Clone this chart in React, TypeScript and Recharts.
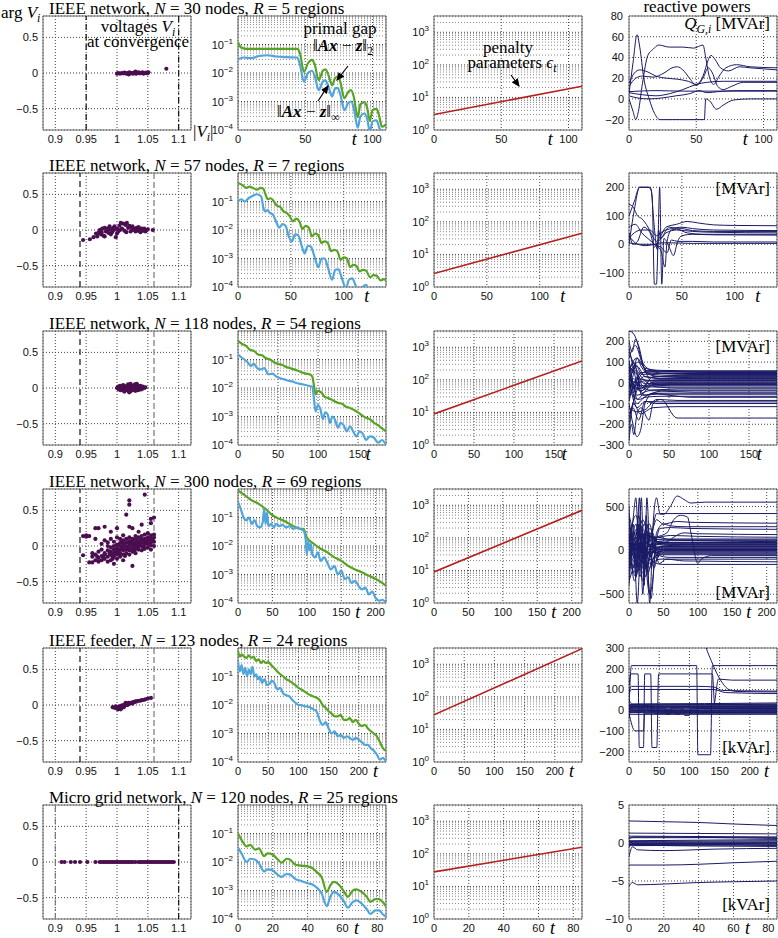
import React from 'react';
import { ComposedChart, Line, Scatter, XAxis, YAxis, CartesianGrid, ReferenceLine, ReferenceArea } from 'recharts';

type Pt = [number, number];

// voltages at convergence: [|V_i|, arg V_i]
const v1: Pt[] = [[1.0,-0.01],[1.002,0.0],[1.005,-0.01],[1.008,0.0],[1.01,-0.005],[1.012,0.005],[1.013,0.0],[1.015,-0.01],[1.017,0.0],[1.019,-0.02],[1.02,0.01],[1.022,-0.005],[1.024,0.0],[1.026,-0.01],[1.027,0.0],[1.028,0.005],[1.03,0.02],[1.031,-0.01],[1.033,0.0],[1.035,0.01],[1.037,-0.005],[1.039,0.0],[1.041,0.01],[1.043,-0.01],[1.045,0.0],[1.047,0.005],[1.049,-0.005],[1.05,0.0],[1.051,0.01],[1.08,0.06]];
const v2: Pt[] = [[0.945,-0.14],[0.956,-0.13],[0.962,-0.1],[0.966,-0.05],[0.968,-0.09],[0.97,-0.04],[0.972,0.0],[0.974,-0.06],[0.975,-0.03],[0.976,0.02],[0.978,-0.08],[0.98,0.03],[0.98,-0.09],[0.982,-0.02],[0.984,0.02],[0.985,0.0],[0.986,-0.04],[0.988,0.05],[0.99,0.01],[0.99,-0.06],[0.992,-0.03],[0.994,0.03],[0.995,0.0],[0.996,0.05],[0.998,-0.1],[1.0,0.02],[1.0,-0.05],[1.002,-0.02],[1.004,0.06],[1.005,0.0],[1.006,0.1],[1.008,0.02],[1.01,0.09],[1.012,-0.01],[1.014,0.07],[1.015,-0.03],[1.016,0.1],[1.018,0.03],[1.02,0.06],[1.022,-0.02],[1.024,0.03],[1.025,0.05],[1.026,0.0],[1.028,0.02],[1.03,-0.02],[1.032,0.03],[1.034,-0.01],[1.035,0.04],[1.036,0.02],[1.038,-0.03],[1.04,0.02],[1.042,-0.01],[1.044,0.02],[1.046,-0.02],[1.048,0.0],[1.05,0.01],[1.058,0.0]];
const v3: Pt[] = [[1.0,0.0],[1.002,0.02],[1.003,-0.02],[1.004,0.0],[1.005,0.03],[1.006,-0.03],[1.007,0.02],[1.008,0.01],[1.009,-0.01],[1.01,0.04],[1.011,-0.04],[1.012,0.02],[1.012,-0.05],[1.013,-0.02],[1.014,0.01],[1.015,0.0],[1.016,0.03],[1.017,-0.03],[1.017,0.0],[1.018,0.05],[1.019,-0.05],[1.02,0.01],[1.02,-0.06],[1.021,-0.01],[1.022,0.04],[1.022,0.06],[1.023,-0.04],[1.024,0.02],[1.024,0.0],[1.025,-0.02],[1.026,0.0],[1.027,0.03],[1.027,-0.01],[1.028,-0.03],[1.029,0.05],[1.03,-0.04],[1.031,0.01],[1.032,-0.01],[1.032,0.06],[1.033,0.04],[1.034,-0.03],[1.034,0.0],[1.035,0.02],[1.036,-0.02],[1.037,0.0],[1.037,0.01],[1.038,0.03],[1.039,-0.02],[1.04,0.01],[1.041,-0.01],[1.042,0.02],[1.044,0.0],[1.046,0.01]];
const v4: Pt[] = [[0.945,0.14],[0.945,-0.13],[0.95,0.15],[0.95,0.13],[0.955,-0.23],[0.955,0.14],[0.96,-0.23],[0.96,-0.15],[0.96,-0.1],[0.965,-0.2],[0.965,-0.12],[0.965,0.1],[0.965,0.25],[0.968,-0.15],[0.97,-0.22],[0.97,-0.17],[0.97,-0.08],[0.97,0.25],[0.975,-0.2],[0.975,-0.14],[0.975,-0.05],[0.975,0.03],[0.978,-0.16],[0.98,-0.18],[0.98,-0.1],[0.98,-0.12],[0.98,0.08],[0.98,0.27],[0.985,-0.22],[0.985,-0.15],[0.985,-0.06],[0.985,0.0],[0.985,0.05],[0.988,-0.1],[0.99,-0.2],[0.99,-0.12],[0.99,-0.08],[0.99,-0.02],[0.99,0.1],[0.99,0.2],[0.992,-0.14],[0.993,-0.18],[0.995,-0.25],[0.995,-0.15],[0.995,-0.1],[0.995,-0.05],[0.995,0.0],[0.995,0.06],[0.998,-0.09],[1.0,-0.18],[1.0,-0.12],[1.0,-0.07],[1.0,-0.03],[1.0,0.02],[1.0,0.12],[1.0,0.25],[1.003,-0.08],[1.005,-0.15],[1.005,-0.1],[1.005,-0.05],[1.005,0.0],[1.005,0.04],[1.005,0.1],[1.008,-0.03],[1.008,0.06],[1.01,-0.2],[1.01,-0.12],[1.01,-0.06],[1.01,-0.02],[1.01,0.03],[1.01,0.08],[1.01,0.15],[1.012,0.0],[1.013,-0.14],[1.015,-0.1],[1.015,-0.05],[1.015,0.0],[1.015,0.05],[1.015,0.1],[1.015,0.44],[1.018,-0.04],[1.02,-0.12],[1.02,-0.06],[1.02,-0.01],[1.02,0.03],[1.02,0.07],[1.02,0.12],[1.02,0.27],[1.02,0.58],[1.02,0.64],[1.022,0.05],[1.025,-0.28],[1.025,-0.08],[1.025,-0.03],[1.025,0.02],[1.025,0.06],[1.025,0.1],[1.025,0.25],[1.028,0.02],[1.028,-0.06],[1.03,-0.1],[1.03,-0.04],[1.03,0.0],[1.03,0.04],[1.03,0.09],[1.03,0.14],[1.033,0.06],[1.035,-0.05],[1.035,-0.01],[1.035,0.03],[1.035,0.07],[1.035,0.12],[1.035,0.2],[1.038,0.03],[1.04,-0.06],[1.04,0.0],[1.04,0.05],[1.04,0.09],[1.04,0.14],[1.04,0.3],[1.042,0.08],[1.043,-0.02],[1.045,0.72],[1.045,-0.04],[1.045,0.02],[1.045,0.06],[1.045,0.1],[1.045,0.16],[1.048,0.05],[1.05,-0.02],[1.05,0.03],[1.05,0.08],[1.05,0.12],[1.05,0.18],[1.052,0.1],[1.055,-0.05],[1.055,0.01],[1.055,0.05],[1.055,0.1],[1.055,0.15],[1.055,0.32],[1.055,0.38],[1.058,0.08],[1.06,0.0],[1.06,0.06],[1.06,0.12],[1.06,0.16],[1.06,0.4]];
const v5: Pt[] = [[0.993,-0.03],[0.996,-0.04],[0.998,-0.02],[1.0,-0.05],[1.001,-0.03],[1.002,-0.06],[1.003,-0.04],[1.004,-0.02],[1.005,-0.05],[1.006,-0.03],[1.006,-0.06],[1.007,-0.01],[1.008,-0.04],[1.009,-0.02],[1.01,0.0],[1.011,-0.03],[1.012,-0.01],[1.013,0.01],[1.014,0.03],[1.015,0.0],[1.016,0.02],[1.017,0.0],[1.018,0.01],[1.019,0.03],[1.02,0.02],[1.022,0.03],[1.024,0.03],[1.025,0.02],[1.026,0.04],[1.028,0.04],[1.03,0.05],[1.032,0.05],[1.035,0.06],[1.038,0.06],[1.04,0.07],[1.043,0.07],[1.046,0.08],[1.05,0.09],[1.055,0.1]];
const v6: Pt[] = [[0.91,0.0],[0.915,0.0],[0.925,0.0],[0.932,0.0],[0.94,0.0],[0.952,0.0],[0.965,0.0],[0.972,0.0],[0.975,0.0],[0.978,0.0],[0.981,0.0],[0.984,0.0],[0.987,0.0],[0.99,0.0],[0.993,0.0],[0.996,0.0],[0.999,0.0],[1.002,0.0],[1.005,0.0],[1.008,0.0],[1.011,0.0],[1.014,0.0],[1.017,0.0],[1.02,0.0],[1.023,0.0],[1.026,0.0],[1.03,0.0],[1.035,0.0],[1.038,0.0],[1.041,0.0],[1.044,0.0],[1.047,0.0],[1.05,0.0],[1.053,0.0],[1.056,0.0],[1.059,0.0],[1.062,0.0],[1.065,0.0],[1.068,0.0],[1.071,0.0],[1.074,0.0],[1.077,0.0],[1.08,0.0],[1.083,0.0],[1.086,0.0],[1.089,0.0],[1.092,0.0]];

// primal gap ||Ax - z||_2 (green) and ||Ax - z||_inf (blue): [t, value]
const g1: Pt[] = [[0,0.12],[2,0.08],[6,0.07],[44,0.07],[46,0.05],[49,0.011],[52,0.022],[55,0.029],[57,0.02],[60,0.0056],[63,0.012],[65,0.0135],[67,0.009],[70,0.0037],[72,0.0065],[74,0.0074],[76,0.005],[79,0.0013],[82,0.0022],[84,0.0025],[86,0.0015],[89,0.00028],[91,0.0008],[94,0.00095],[96,0.0006],[98,0.00021],[100,0.0005],[103,0.00055],[105,0.0003],[107,0.00013],[110,0.00016]];
const b1: Pt[] = [[0,0.03],[4,0.035],[10,0.033],[16,0.04],[22,0.042],[28,0.038],[36,0.036],[44,0.035],[46,0.02],[49,0.005],[52,0.01],[55,0.012],[57,0.008],[60,0.0025],[63,0.005],[65,0.0055],[67,0.0035],[70,0.0015],[72,0.0028],[74,0.003],[76,0.0018],[79,0.0005],[82,0.0009],[84,0.001],[86,0.0006],[89,0.00012],[91,0.0003],[94,0.00038],[96,0.00025],[98,0.00009],[100,0.0002],[103,0.00022],[105,0.00012],[108,0.00008],[110,0.0001]];
const g2: Pt[] = [[0,0.45],[4,0.38],[8,0.3],[11,0.33],[14,0.3],[18,0.26],[21,0.3],[24,0.28],[26,0.18],[28,0.12],[31,0.13],[34,0.1],[37,0.07],[40,0.065],[43,0.045],[46,0.04],[49,0.03],[52,0.02],[55,0.025],[58,0.02],[61,0.011],[64,0.014],[67,0.012],[70,0.006],[73,0.0075],[76,0.0065],[79,0.0035],[82,0.004],[85,0.0035],[88,0.0018],[91,0.002],[94,0.0018],[97,0.0009],[100,0.0011],[103,0.001],[106,0.0005],[109,0.0006],[112,0.00055],[115,0.00035],[118,0.0004],[121,0.00038],[125,0.00022],[128,0.00026],[131,0.00025],[135,0.00017],[138,0.00019],[140,0.00017]];
const b2: Pt[] = [[0,0.1],[3,0.12],[6,0.1],[10,0.13],[14,0.16],[18,0.18],[22,0.15],[24,0.06],[26,0.045],[28,0.05],[30,0.04],[33,0.035],[36,0.02],[39,0.012],[42,0.016],[45,0.014],[48,0.006],[51,0.004],[54,0.007],[57,0.0065],[60,0.003],[63,0.0015],[66,0.0028],[69,0.0026],[72,0.0013],[76,0.0005],[79,0.001],[82,0.001],[85,0.0005],[89,0.00018],[92,0.0004],[95,0.00042],[98,0.00022],[102,0.00009],[105,0.00018],[108,0.0002],[111,0.00012],[115,0.00006],[118,0.0001],[121,0.00012],[124,0.00008],[128,0.00004],[131,0.00008],[134,0.0001],[137,0.00007],[140,0.00005]];
const g3: Pt[] = [[0,0.45],[5,0.35],[10,0.3],[15,0.22],[20,0.2],[25,0.15],[30,0.14],[35,0.11],[40,0.1],[45,0.08],[50,0.07],[55,0.065],[60,0.055],[65,0.05],[70,0.045],[75,0.04],[80,0.035],[85,0.032],[90,0.03],[93,0.025],[95,0.012],[97,0.006],[100,0.008],[104,0.007],[108,0.005],[112,0.0045],[116,0.004],[120,0.0035],[125,0.003],[130,0.0028],[135,0.0022],[140,0.002],[145,0.0017],[150,0.0014],[155,0.0011],[160,0.0009],[165,0.0008],[170,0.0006],[175,0.0005],[180,0.00038],[185,0.0003]];
const b3: Pt[] = [[0,0.15],[4,0.12],[8,0.1],[12,0.08],[16,0.06],[20,0.07],[24,0.05],[28,0.045],[33,0.05],[38,0.03],[43,0.032],[48,0.025],[53,0.022],[58,0.02],[63,0.018],[68,0.017],[73,0.015],[78,0.014],[83,0.013],[88,0.012],[93,0.011],[95,0.004],[97,0.0015],[100,0.0025],[103,0.0018],[106,0.0008],[109,0.0014],[112,0.0012],[115,0.0006],[118,0.001],[121,0.0008],[125,0.0004],[128,0.0006],[132,0.0005],[136,0.0003],[140,0.00045],[144,0.0003],[148,0.0002],[152,0.0003],[156,0.00025],[160,0.00015],[165,0.0002],[170,0.00018],[175,0.00012],[180,0.00015],[185,0.0001]];
const g4: Pt[] = [[0,0.9],[10,0.6],[20,0.4],[30,0.3],[40,0.2],[50,0.12],[60,0.09],[70,0.07],[80,0.05],[90,0.04],[95,0.04],[100,0.02],[110,0.012],[120,0.008],[130,0.006],[140,0.004],[150,0.003],[160,0.002],[170,0.0015],[180,0.0012],[190,0.0009],[200,0.0007],[210,0.0005],[215,0.0004]];
const b4: Pt[] = [[0,0.35],[4,0.2],[8,0.1],[12,0.08],[16,0.1],[20,0.06],[24,0.08],[28,0.05],[32,0.045],[36,0.07],[38,0.2],[40,0.06],[42,0.15],[44,0.05],[48,0.06],[52,0.045],[56,0.06],[60,0.05],[65,0.055],[70,0.045],[75,0.05],[80,0.04],[85,0.045],[90,0.04],[95,0.035],[98,0.02],[100,0.005],[102,0.015],[104,0.007],[106,0.012],[108,0.005],[112,0.004],[116,0.006],[120,0.003],[125,0.004],[130,0.0025],[135,0.0015],[140,0.002],[145,0.001],[150,0.0014],[155,0.0007],[160,0.0008],[165,0.0005],[170,0.0006],[175,0.0004],[180,0.0003],[185,0.00035],[190,0.0002],[195,0.00025],[200,0.00015],[205,0.00012],[210,0.00013],[215,0.0001]];
const g5: Pt[] = [[0,0.8],[3,0.5],[6,0.6],[10,0.5],[14,0.45],[18,0.55],[22,0.45],[26,0.5],[30,0.35],[34,0.4],[38,0.3],[42,0.35],[46,0.3],[50,0.32],[55,0.25],[60,0.2],[65,0.15],[70,0.12],[75,0.1],[80,0.08],[85,0.07],[90,0.06],[95,0.05],[100,0.04],[105,0.035],[110,0.03],[115,0.025],[120,0.022],[125,0.02],[130,0.018],[135,0.015],[140,0.01],[145,0.008],[150,0.006],[155,0.005],[160,0.004],[165,0.004],[170,0.0045],[175,0.003],[180,0.003],[185,0.0035],[190,0.0025],[195,0.003],[200,0.0022],[205,0.0018],[210,0.002],[215,0.0015],[220,0.0012],[225,0.001],[230,0.0008],[235,0.0005],[240,0.0003],[245,0.00025]];
const b5: Pt[] = [[0,0.35],[3,0.15],[6,0.25],[9,0.12],[12,0.2],[15,0.1],[18,0.18],[21,0.12],[24,0.22],[27,0.1],[30,0.12],[33,0.08],[36,0.1],[40,0.06],[44,0.08],[48,0.05],[52,0.055],[56,0.07],[60,0.06],[65,0.035],[70,0.04],[75,0.025],[80,0.022],[85,0.02],[90,0.015],[95,0.012],[100,0.01],[105,0.01],[110,0.009],[115,0.009],[120,0.008],[125,0.007],[130,0.006],[135,0.003],[140,0.002],[145,0.0025],[150,0.0015],[155,0.001],[160,0.0012],[165,0.0008],[170,0.0009],[175,0.0007],[180,0.0008],[185,0.0007],[190,0.0006],[195,0.0007],[200,0.0006],[205,0.0005],[210,0.0004],[215,0.0004],[220,0.0003],[225,0.00025],[230,0.00018],[235,0.00012],[240,0.00014],[245,0.0001]];
const g6: Pt[] = [[0,0.1],[2,0.06],[5,0.035],[7,0.04],[10,0.027],[12,0.03],[15,0.016],[17,0.02],[20,0.018],[23,0.012],[25,0.0095],[28,0.013],[30,0.012],[33,0.008],[36,0.0075],[40,0.007],[43,0.006],[45,0.0045],[48,0.003],[51,0.0009],[53,0.0015],[55,0.002],[58,0.0016],[61,0.0009],[63,0.0006],[66,0.001],[68,0.0011],[71,0.0009],[74,0.0006],[76,0.0004],[79,0.0005],[81,0.0005],[83,0.0004],[85,0.00028]];
const b6: Pt[] = [[0,0.032],[2,0.02],[5,0.01],[7,0.013],[10,0.012],[12,0.009],[15,0.0047],[17,0.0055],[20,0.005],[23,0.0035],[25,0.003],[28,0.0038],[30,0.0036],[33,0.0025],[36,0.0022],[40,0.0018],[43,0.0016],[45,0.0013],[48,0.0008],[51,0.00028],[53,0.0006],[55,0.0009],[58,0.0007],[61,0.0004],[63,0.00025],[66,0.0004],[68,0.00045],[71,0.00035],[74,0.00022],[76,0.00015],[79,0.0002],[81,0.0002],[83,0.00015],[85,0.00012]];

// penalty parameters rho_t
const rho1: Pt[] = [[0,3],[110,22]];
const rho2: Pt[] = [[0,2.6],[140,45]];
const rho3: Pt[] = [[0,9],[185,380]];
const rho4: Pt[] = [[0,9],[215,700]];
const rho5: Pt[] = [[0,28],[245,3000]];
const rho6: Pt[] = [[0,28],[85,160]];

// reactive powers Q_G,i, one list per generator
const q1: Pt[][] = [
  [[0,5],[3,35],[6,62],[8,50],[11,20],[15,0],[19,-14],[23,-20],[56,-20],[57,0],[60,-2],[65,-10],[70,-6],[78,-1],[90,0],[110,0]],
  [[0,0],[3,-12],[5,-20],[7,-12],[10,15],[14,42],[18,48],[22,52],[30,50],[40,50],[48,49],[55,52],[57,40],[60,20],[63,14],[67,22],[72,30],[80,33],[90,31],[110,30]],
  [[0,15],[4,25],[8,28],[14,26],[20,22],[28,20],[36,19],[44,17],[50,14],[55,22],[59,38],[61,42],[64,38],[68,30],[74,27],[82,31],[90,30],[110,28]],
  [[0,12],[5,20],[10,22],[18,21],[26,25],[32,30],[36,31],[40,28],[45,20],[50,13],[55,20],[59,30],[62,25],[66,12],[70,9],[76,12],[85,16],[110,16]],
  [[0,7],[20,8],[40,7.5],[60,7.5],[110,7.5]],
  [[0,6],[10,4],[20,3],[30,5],[40,9],[50,14],[58,16],[70,17],[90,17],[110,17]],
  [[0,3],[6,1],[15,0],[25,1],[35,3],[45,5],[52,8],[58,6],[66,7],[80,8],[110,8]],
];
const q2: Pt[][] = [
  [[0,140],[4,130],[8,100],[12,90],[18,60],[22,30],[26,10],[30,30],[35,60],[45,70],[55,80],[65,75],[80,68],[100,66],[140,65]],
  [[0,100],[5,150],[10,200],[20,200],[22,160],[24,-140],[26,-140],[28,50],[30,20],[35,40],[45,50],[60,45],[80,42],[140,40]],
  [[0,0],[5,120],[10,200],[18,200],[21,190],[23,100],[27,-20],[29,200],[31,-140],[33,20],[38,-10],[42,-40],[46,10],[50,30],[60,35],[80,33],[140,32]],
  [[0,40],[4,0],[8,10],[14,60],[20,40],[24,-10],[28,10],[32,30],[38,60],[45,55],[55,40],[70,35],[90,35],[140,35]],
  [[0,60],[6,70],[12,40],[18,20],[24,0],[30,-20],[34,-80],[36,10],[40,50],[50,55],[60,48],[80,45],[140,45]],
  [[0,5],[10,0],[20,0],[30,-10],[36,-30],[40,15],[46,10],[60,10],[80,8],[140,8]],
  [[0,30],[8,0],[16,-5],[24,0],[30,5],[40,5],[60,3],[140,3]],
  [[0,20],[5,40],[12,50],[20,50],[26,30],[32,45],[40,55],[50,60],[60,55],[80,50],[140,48]],
];
const q3: Pt[][] = [
  [[0,250],[5,240],[10,200],[15,120],[20,80],[30,60],[50,55],[100,50],[185,50]],
  [[0,200],[4,150],[8,210],[12,180],[20,60],[30,40],[60,35],[185,35]],
  [[0,-280],[3,-200],[6,-250],[10,-150],[15,-120],[25,-180],[30,-100],[40,-80],[60,-170],[80,-170],[185,-170]],
  [[0,-100],[5,-200],[10,-260],[15,-220],[20,-100],[30,-50],[50,-60],[80,-70],[185,-70]],
  [[0,100],[5,50],[10,120],[15,80],[25,40],[40,30],[80,25],[185,25]],
  [[0,0],[5,-50],[10,30],[15,-30],[25,10],[40,15],[80,15],[185,15]],
  [[0,50],[6,100],[12,20],[20,-20],[30,5],[50,5],[185,5]],
  [[0,-50],[5,0],[10,-80],[20,-40],[30,-10],[50,-5],[185,-5]],
  [[0,150],[5,100],[10,60],[20,10],[35,-20],[60,-25],[185,-25]],
  [[0,-150],[5,-100],[10,-20],[20,-60],[40,-40],[80,-45],[185,-45]],
  [[0,30],[8,-20],[15,40],[25,60],[40,45],[80,40],[185,40]],
  [[0,-30],[6,20],[12,-10],[25,-15],[50,-12],[185,-12]],
  [[0,80],[10,40],[20,-5],[40,-2],[185,-2]],
  [[0,10],[10,80],[20,30],[40,20],[185,20]],
  [[0,-200],[5,-120],[12,-180],[20,-90],[35,-100],[60,-100],[185,-100]],
  [[0,20],[10,0],[20,10],[50,10],[185,10]],
  [[0,-10],[10,-30],[20,-20],[50,-20],[185,-20]],
  [[0,60],[10,120],[20,70],[40,60],[100,58],[185,58]],
  [[0,-60],[10,-10],[25,-35],[60,-30],[185,-30]],
  [[0,120],[8,180],[16,100],[30,0],[60,0],[185,0]],
  [[0,-120],[10,-140],[20,-130],[35,-80],[60,-85],[185,-85]],
  [[0,40],[15,-40],[30,30],[60,30],[185,30]],
  [[0,90],[6,-30],[14,50],[30,48],[185,48]],
  [[0,-80],[8,60],[16,-60],[35,-55],[185,-55]],
  [[0,170],[6,60],[14,-40],[30,-8],[185,-8]],
  [[0,-170],[8,-60],[18,30],[40,22],[185,22]],
  [[0,70],[10,-100],[20,-70],[40,-65],[185,-65]],
  [[0,-20],[8,90],[16,40],[35,45],[185,45]],
  [[0,110],[10,-60],[25,-38],[185,-38]],
  [[0,-90],[10,20],[25,12],[185,12]],
  [[0,25],[10,-120],[20,-90],[40,-92],[185,-92]],
  [[0,-240],[6,-100],[14,-150],[30,-120],[60,-115],[185,-115]],
  [[0,45],[12,100],[24,55],[185,55]],
  [[0,-40],[12,-80],[30,-50],[185,-50]],
];
const q4: Pt[][] = [
  [[0,100],[5,300],[10,600],[14,100],[18,600],[22,-400],[26,600],[30,100],[40,420],[50,410],[60,500],[70,620],[80,580],[90,540],[110,550],[215,550]],
  [[0,400],[5,200],[10,-300],[15,600],[20,-500],[25,400],[30,-600],[35,300],[40,600],[45,420],[215,420]],
  [[0,-300],[5,100],[10,-200],[15,300],[20,200],[30,-500],[35,-300],[40,200],[50,300],[60,280],[80,270],[215,270]],
  [[0,50],[10,200],[20,-100],[30,100],[40,150],[55,200],[65,350],[75,400],[85,380],[90,200],[100,-150],[105,-100],[120,-60],[215,-60]],
  [[0,200],[8,-100],[16,300],[24,0],[32,-550],[38,0],[45,250],[60,260],[90,250],[215,240]],
  [[0,-200],[6,300],[12,-600],[18,200],[26,-200],[34,100],[44,-150],[54,-100],[80,-120],[215,-130]],
  [[0,150],[8,0],[16,150],[24,-300],[32,50],[42,150],[60,120],[100,110],[215,100]],
  [[0,0],[10,-150],[20,100],[30,300],[40,-100],[50,50],[80,60],[215,60]],
  [[0,-100],[10,50],[20,-50],[30,-200],[40,0],[50,20],[215,20]],
  [[0,250],[10,100],[20,350],[30,150],[40,350],[50,300],[70,330],[90,320],[215,310]],
  [[0,80],[10,-50],[20,50],[35,-20],[50,-30],[215,-30]],
  [[0,-50],[12,100],[24,-80],[36,40],[50,0],[215,0]],
  [[0,30],[10,60],[20,30],[40,80],[60,70],[215,70]],
  [[0,120],[15,-200],[25,100],[40,-50],[60,-80],[215,-80]],
  [[0,-30],[10,20],[20,-150],[30,0],[50,40],[215,40]],
  [[0,60],[20,180],[40,150],[60,170],[100,160],[215,150]],
  [[0,350],[10,-100],[20,-250],[30,-100],[40,-150],[50,-160],[215,-160]],
  [[0,-10],[15,30],[30,-30],[50,-10],[215,-10]],
  [[0,180],[12,60],[24,200],[40,100],[60,110],[215,110]],
  [[0,10],[15,-80],[30,50],[45,10],[215,10]],
  [[0,-150],[10,-250],[20,-50],[30,50],[50,80],[80,200],[100,190],[215,180]],
  [[0,40],[20,90],[40,40],[60,45],[215,45]],
  [[0,-400],[8,200],[16,-300],[26,300],[36,-200],[46,50],[215,50]],
  [[0,500],[6,-200],[14,400],[22,-100],[32,200],[44,-50],[215,-50]],
  [[0,-250],[10,300],[20,-350],[30,200],[42,80],[215,80]],
  [[0,220],[8,-350],[18,100],[28,-250],[38,120],[50,130],[215,130]],
  [[0,-80],[12,250],[24,-200],[36,0],[50,-20],[215,-20]],
  [[0,300],[10,0],[20,250],[30,-50],[45,30],[215,30]],
  [[0,-350],[10,-100],[20,150],[30,-150],[45,-100],[215,-100]],
  [[0,100],[10,400],[20,0],[30,250],[42,90],[215,90]],
  [[0,-20],[10,-300],[22,300],[34,-100],[48,5],[215,5]],
  [[0,150],[14,-50],[28,200],[40,-40],[55,-40],[215,-40]],
  [[0,0],[10,150],[20,-200],[30,150],[45,120],[215,120]],
  [[0,-120],[10,80],[20,-100],[30,60],[50,65],[215,65]],
];
const q5: Pt[][] = [
  [[0,0],[4,215],[112,215],[114,-215],[135,-215],[138,215],[245,215]],
  [[0,120],[3,175],[15,175],[17,-180],[24,-180],[26,175],[36,175],[38,-180],[46,-180],[49,175],[138,175],[142,20],[245,20]],
  [[0,90],[4,115],[112,115],[140,112],[155,95],[245,92]],
  [[0,80],[4,100],[140,100],[160,85],[245,80]],
  [[120,400],[128,300],[136,240],[145,180],[155,130],[165,100],[180,90],[245,88]],
  [[0,20],[140,20],[148,150],[170,145],[245,145]],
  [[0,50],[5,30],[245,35]],
  [[0,-40],[5,25],[245,28]],
  [[0,10],[60,10],[62,-20],[68,-20],[70,10],[245,10]],
  [[0,0],[75,0],[77,-20],[84,-20],[86,0],[245,2]],
  [[0,-10],[20,-10],[22,20],[40,20],[42,-15],[245,-15]],
  [[0,15],[245,15]],
  [[0,5],[100,5],[120,8],[245,8]],
  [[0,-20],[245,-20]],
  [[0,-5],[245,-5]],
  [[0,25],[30,25],[32,-5],[245,-3]],
  [[0,-15],[10,-100],[24,-100],[26,-15],[245,-10]],
  [[0,20],[245,22]],
  [[0,12],[245,12]],
  [[0,-2],[245,0]],
  [[0,-12],[245,-12]],
  [[0,28],[245,30]],
  [[0,6],[90,6],[92,-25],[100,-25],[102,6],[245,5]],
  [[0,18],[245,18]],
  [[0,-8],[245,-8]],
];
const q6: Pt[][] = [
  [[0,2.9],[20,2.8],[40,2.7],[60,2.5],[85,2.3]],
  [[0,1.3],[85,1.2]],
  [[0,-2.9],[20,-2.9],[40,-2.8],[60,-2.6],[85,-2.4]],
  [[0,-5.7],[2,-5.2],[5,-5.5],[20,-5.4],[40,-5.2],[60,-5.1],[85,-5.0]],
  [[0,-1.8],[2,-0.5],[5,-0.9],[20,-1.0],[50,-0.8],[85,-0.7]],
  [[0,0.9],[85,0.8]],
  [[0,0.7],[85,0.7]],
  [[0,0.5],[3,0.8],[85,0.6]],
  [[0,0.3],[85,0.45]],
  [[0,0.2],[85,0.3]],
  [[0,0.1],[85,0.15]],
  [[0,0],[85,0.05]],
  [[0,-0.1],[85,-0.05]],
  [[0,-0.2],[85,-0.15]],
  [[0,-0.35],[85,-0.25]],
  [[0,-0.5],[3,-0.1],[85,-0.35]],
  [[0,0.4],[4,-0.3],[85,-0.45]],
];

// per-row axis extents and ticks
const tMax = [110, 140, 185, 215, 245, 85];
const tTicks = [[0,50,100],[0,50,100],[0,50,100,150],[0,50,100,150,200],[0,50,100,150,200],[0,20,40,60,80]];
const qDomain: Pt[] = [[-30,80],[-150,250],[-300,250],[-600,700],[-250,300],[-10,5]];
const qTicks = [[-20,0,20,40,60],[-100,0,100,200],[-300,-200,-100,0,100,200],[-500,0,500],[-200,-100,0,100,200,300],[-10,-5,0,5]];
// top-edge tick of the first reactive-power panel, labelled through a reference line
const qTopTick: (number | null)[] = [80, null, null, null, null, null];
const vLimits: Pt[] = [[0.95,1.1],[0.94,1.06],[0.94,1.06],[0.94,1.06],[0.94,1.06],[0.9,1.1]];
const titles = [
  ['IEEE network, ', 'N', ' = 30 nodes, ', 'R', ' = 5 regions'],
  ['IEEE network, ', 'N', ' = 57 nodes, ', 'R', ' = 7 regions'],
  ['IEEE network, ', 'N', ' = 118 nodes, ', 'R', ' = 54 regions'],
  ['IEEE network, ', 'N', ' = 300 nodes, ', 'R', ' = 69 regions'],
  ['IEEE feeder, ', 'N', ' = 123 nodes, ', 'R', ' = 24 regions'],
  ['Micro grid network, ', 'N', ' = 120 nodes, ', 'R', ' = 25 regions'],
];

const rowTop = [16, 173, 331, 489, 648, 805];
const colLeft = [43, 238, 434, 629];
const tFrac = [0.785, 0.87, 0.88, 0.81, 0.93, 0.8];
const W = 148, H = 114;
const ML = 46, MR = 4, MT = 10, MB = 22;

const serif = '"Liberation Serif", "DejaVu Serif", serif';
const sans = '"Liberation Sans", Arial, sans-serif';
const tickStyle = { fontSize: 11, fill: '#111', fontFamily: sans };
const fmt = (v: number) => (v < 0 ? '\u2212' + Math.abs(v) : String(v));
const rows = (pts: Pt[]) => pts.map(([t, v]) => ({ t, v }));

const gapMinor: number[] = [];
[1e-4, 1e-3, 1e-2, 1e-1].forEach((d) => { for (let k = 2; k <= 9; k++) gapMinor.push(+(d * k).toPrecision(3)); });
const rhoMinor: number[] = [];
[1, 10, 100, 1000].forEach((d) => { for (let k = 2; k <= 9; k++) if (d * k < 3162) rhoMinor.push(d * k); });

function LogTick(props: any) {
  const { x, y, payload } = props;
  const e = Math.round(Math.log10(payload.value));
  return (
    <text x={x} y={y + 4} textAnchor="end" fontFamily={sans} fontSize={11} fill="#111">
      10<tspan dy={-5} fontSize={8}>{e < 0 ? '\u2212' + -e : String(e)}</tspan>
    </text>
  );
}

function NumTick(props: any) {
  const { x, y, payload } = props;
  return (
    <text x={x} y={y + 4} textAnchor="end" fontFamily={sans} fontSize={11} fill="#111">
      {fmt(payload.value)}
    </text>
  );
}

const Dot = (p: any) => <circle cx={p.cx} cy={p.cy} r={2.1} fill="#4b0e4f" />;

function Panel({ x, y, xDomain, xTicks, yDomain, yTicks, log = false, minor = [], xKey = 't', yKey = 'v', children }: any) {
  return (
    <div style={{ position: 'absolute', left: x - ML, top: y - MT }}>
      <ComposedChart width={W + ML + MR} height={H + MT + MB} margin={{ top: MT, right: MR, bottom: 0, left: 0 }}>
        <CartesianGrid stroke="#444" strokeDasharray="1 2" />
        {minor.map((m: number) => (
          <ReferenceLine key={m} y={m} stroke="#8a8a8a" strokeDasharray="1 2" />
        ))}
        <XAxis type="number" dataKey={xKey} domain={xDomain} ticks={xTicks} interval={0} allowDataOverflow
          axisLine={false} tickLine={false} tickSize={3} height={MB} tick={tickStyle} tickFormatter={fmt} />
        <YAxis type="number" dataKey={yKey} domain={yDomain} ticks={yTicks} interval={0} allowDataOverflow
          scale={log ? 'log' : 'linear'} axisLine={false} tickLine={false} tickSize={3} width={ML}
          tick={log ? <LogTick /> : <NumTick />} />
        {children}
        <ReferenceArea x1={xDomain[0]} x2={xDomain[1]} y1={yDomain[0]} y2={yDomain[1]} fill="none" stroke="#6a6a6a" ifOverflow="visible" />
      </ComposedChart>
    </div>
  );
}

function Txt({ x, y, size = 17, anchor = 'start', children }: any) {
  const tx = anchor === 'middle' ? 'translateX(-50%)' : anchor === 'end' ? 'translateX(-100%)' : undefined;
  return (
    <div style={{ position: 'absolute', left: x, top: y - 0.84 * size, fontSize: size, lineHeight: `${size}px`, fontFamily: serif, whiteSpace: 'nowrap', transform: tx, color: '#000' }}>
      {children}
    </div>
  );
}

const sub = { fontSize: '0.7em', verticalAlign: '-0.3em', lineHeight: 0 };
const Norm = ({ s }: { s: string }) => (
  <span>‖<b><i>Ax</i></b> − <b><i>z</i></b>‖<span style={sub}>{s}</span></span>
);

export default function App() {
  const volt = [v1, v2, v3, v4, v5, v6];
  const gap2 = [g1, g2, g3, g4, g5, g6];
  const gapInf = [b1, b2, b3, b4, b5, b6];
  const rho = [rho1, rho2, rho3, rho4, rho5, rho6];
  const reactive = [q1, q2, q3, q4, q5, q6];
  const units = ['', '[MVAr]', '[MVAr]', '[MVAr]', '[kVAr]', '[kVAr]'];
  const unitBase = [0, 194, 352, 598, 753, 910];

  return (
    <div style={{ position: 'absolute', left: 0, top: 0, width: 778, height: 938, overflow: 'hidden', background: '#fff' }}>
      {rowTop.map((top, r) => {
        const lo = vLimits[r][0], hi = vLimits[r][1];
        const loStyle = r === 5 ? { stroke: '#777', dash: '6 3 1.5 3' } : { stroke: '#111', dash: '6 4' };
        const hiStyle = r === 0 || r === 5 ? { stroke: '#111', dash: '6 3 1.5 3' } : { stroke: '#777', dash: '6 3' };
        const topTick = qTopTick[r];
        return (
          <React.Fragment key={r}>
            <Panel x={colLeft[0]} y={top} xDomain={[0.88, 1.12]} xTicks={[0.9, 0.95, 1, 1.05, 1.1]}
              yDomain={[-0.8, 0.8]} yTicks={[-0.5, 0, 0.5]} xKey="x" yKey="y">
              <ReferenceLine x={lo} stroke={loStyle.stroke} strokeDasharray={loStyle.dash} strokeWidth={1.2} />
              <ReferenceLine x={hi} stroke={hiStyle.stroke} strokeDasharray={hiStyle.dash} strokeWidth={1.2} />
              <Scatter data={volt[r].map(([x, y]) => ({ x, y }))} shape={Dot} isAnimationActive={false} />
            </Panel>
            <Panel x={colLeft[1]} y={top} xDomain={[0, tMax[r]]} xTicks={tTicks[r]}
              yDomain={[1e-4, 1]} yTicks={[1e-4, 1e-3, 1e-2, 1e-1]} log minor={gapMinor}>
              <Line data={rows(gap2[r])} dataKey="v" type="monotone" stroke="#58a323" strokeWidth={2.2} dot={false} isAnimationActive={false} />
              <Line data={rows(gapInf[r])} dataKey="v" type="monotone" stroke="#50a5dc" strokeWidth={2.2} dot={false} isAnimationActive={false} />
            </Panel>
            <Panel x={colLeft[2]} y={top} xDomain={[0, tMax[r]]} xTicks={tTicks[r]}
              yDomain={[1, 3162]} yTicks={[1, 10, 100, 1000]} log minor={rhoMinor}>
              <Line data={rows(rho[r])} dataKey="v" type="linear" stroke="#b3201e" strokeWidth={1.6} dot={false} isAnimationActive={false} />
            </Panel>
            <Panel x={colLeft[3]} y={top} xDomain={[0, tMax[r]]} xTicks={tTicks[r]}
              yDomain={qDomain[r]} yTicks={qTicks[r]}>
              {topTick !== null && (
                <ReferenceLine y={topTick} stroke="none" ifOverflow="visible"
                  label={{ value: fmt(topTick), position: 'left', offset: 6, fontSize: 11, fill: '#111', fontFamily: sans }} />
              )}
              {reactive[r].map((ln, i) => (
                <Line key={i} data={rows(ln)} dataKey="v" type="monotone" stroke="#1a1a66" strokeWidth={1} dot={false} isAnimationActive={false} />
              ))}
            </Panel>
            <Txt x={49} y={top - 2}>
              {titles[r][0]}<i>{titles[r][1]}</i>{titles[r][2]}<i>{titles[r][3]}</i>{titles[r][4]}
            </Txt>
            {[1, 2, 3].map((c) => (
              <Txt key={c} x={colLeft[c] + tFrac[r] * W} y={top + H + 15} size={18} anchor="middle"><i>t</i></Txt>
            ))}
            {r > 0 && <Txt x={770} y={unitBase[r]} anchor="end">{units[r]}</Txt>}
          </React.Fragment>
        );
      })}

      <Txt x={1} y={18}>arg <i>V</i><i style={sub}>i</i></Txt>
      <Txt x={193} y={137}>|<i>V</i><i style={sub}>i</i>|</Txt>
      <Txt x={138} y={32} anchor="middle">voltages <i>V</i><i style={sub}>i</i></Txt>
      <Txt x={138} y={47} anchor="middle">at convergence</Txt>
      <Txt x={340} y={34} anchor="middle">primal gap</Txt>
      <Txt x={313} y={51}><Norm s="2" /></Txt>
      <Txt x={277} y={117}><Norm s="∞" /></Txt>
      <Txt x={508} y={53} anchor="middle">penalty</Txt>
      <Txt x={512} y={68} anchor="middle">parameters <i>ϵ</i><i style={sub}>t</i></Txt>
      <Txt x={697} y={12} anchor="middle">reactive powers</Txt>
      <Txt x={770} y={29} anchor="end"><i>Q</i><i style={sub}>G,i</i> [MVAr]</Txt>

      <svg width={778} height={938} style={{ position: 'absolute', left: 0, top: 0, pointerEvents: 'none' }}>
        <defs>
          <marker id="ah" markerWidth="7" markerHeight="6" refX="6" refY="3" orient="auto">
            <path d="M0,0 L7,3 L0,6 z" fill="#000" />
          </marker>
        </defs>
        <line x1={348} y1={66} x2={337} y2={80} stroke="#000" strokeWidth={1.2} markerEnd="url(#ah)" />
        <line x1={318} y1={101} x2={328} y2={86} stroke="#000" strokeWidth={1.2} markerEnd="url(#ah)" />
        <line x1={511} y1={75} x2={519} y2={86} stroke="#000" strokeWidth={1.2} markerEnd="url(#ah)" />
      </svg>
    </div>
  );
}
